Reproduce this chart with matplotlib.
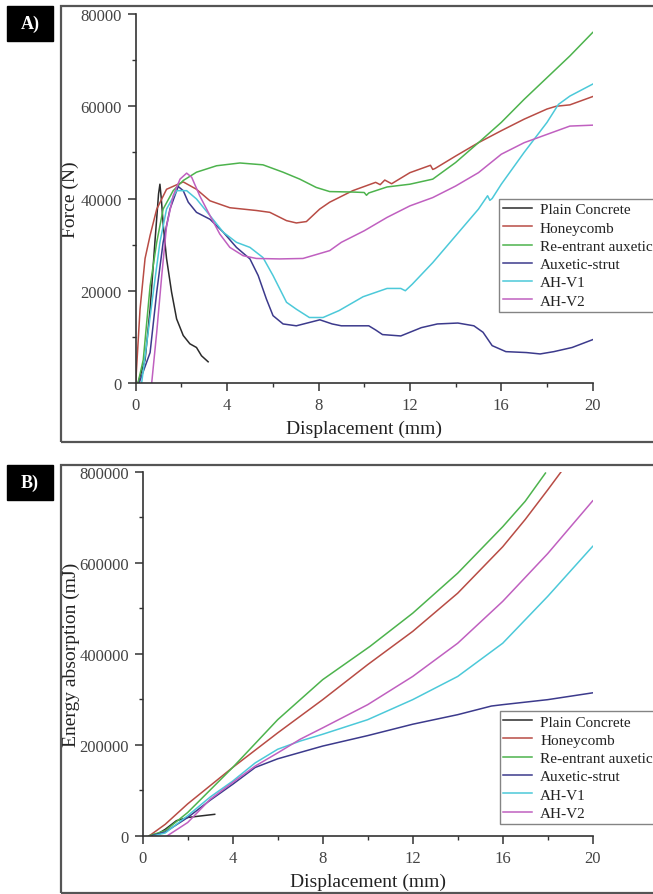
import matplotlib
matplotlib.use("Agg")
import matplotlib.pyplot as plt
from matplotlib.patches import Rectangle
from matplotlib.ticker import MultipleLocator, FuncFormatter

plt.rcParams['font.family'] = ['Liberation Serif', 'DejaVu Serif']

labels = ["Plain Concrete", "Honeycomb", "Re-entrant auxetic", "Auxetic-strut", "AH-V1", "AH-V2"]
colors = ['#2b2b2b', '#b84c45', '#4db34d', '#3c3a8c', '#4cc9d9', '#c060c0']

# ---------- Panel A: Force (N) vs displacement (mm) ----------
pc_x = [0.1, 0.41, 0.63, 0.84, 1.0, 1.06, 1.12, 1.21, 1.35, 1.57, 1.79, 2.08, 2.37, 2.66, 2.88, 3.17]
pc_y = [0, 5000, 16000, 30500, 41000, 43100, 40000, 34000, 27000, 19700, 13900, 10300, 8500, 7700, 5900, 4600]

hc_x = [0, 0.19, 0.41, 0.63, 0.92, 1.35, 2.08, 2.66, 3.25, 4.12, 5.28, 5.87, 6.6, 7.03, 7.47, 8.05, 8.49,
        9.5, 10.5, 10.7, 10.9, 11.2, 12, 12.9, 13.0, 13.1, 14, 15, 16, 17, 18, 18.4, 19, 20]
hc_y = [0, 16000, 27000, 32000, 37700, 42000, 43600, 42000, 39500, 38000, 37400, 37000, 35200, 34700, 35000, 37700, 39200,
        41700, 43500, 43000, 44000, 43200, 45600, 47200, 46300, 46500, 49200, 52100, 54700, 57200, 59400, 60000, 60300, 62100]

re_x = [0.1, 0.33, 0.63, 0.92, 1.2, 1.64, 2.08, 2.66, 3.54, 4.56, 5.57, 6.45, 7.18, 7.9, 8.49, 9.5, 10.0, 10.1, 10.2,
        11, 12, 13, 14, 15, 16, 17, 18, 19, 20]
re_y = [0, 5000, 21000, 30500, 37700, 41700, 43900, 45700, 47100, 47700, 47300, 45700, 44200, 42400, 41500, 41400, 41300, 40700, 41200,
        42500, 43100, 44200, 47800, 52100, 56500, 61500, 66200, 70900, 76000]

as_x = [0.15, 0.63, 0.92, 1.2, 1.5, 1.86, 2.08, 2.3, 2.66, 3.25, 3.83, 4.41, 5.0, 5.36, 5.72, 6.01, 6.45, 7.03, 7.9,
        8.06, 8.6, 9.0, 10.2, 10.5, 10.8, 11.6, 12.5, 13.2, 14.1, 14.8, 15.2, 15.6, 16.2, 17.1, 17.7, 18.3, 19.1, 20]
as_y = [0, 6600, 19700, 30500, 37700, 42600, 41700, 39200, 37000, 35500, 32700, 29400, 26900, 23300, 18200, 14600, 12800, 12400, 13500,
        13700, 12800, 12400, 12400, 11500, 10500, 10200, 12000, 12800, 13000, 12400, 11000, 8100, 6800, 6600, 6300, 6800, 7700, 9400]

v1_x = [0.26, 0.77, 1.06, 1.35, 1.79, 2.23, 2.66, 3.25, 3.83, 4.41, 5.0, 5.57, 6.01, 6.6, 7.03, 7.6, 8.2, 8.9,
        9.95, 11.0, 11.6, 11.8, 12.1, 13, 14, 15, 15.4, 15.5, 15.6, 16, 17, 18, 18.5, 19, 20]
v1_y = [0, 19700, 30500, 37700, 41700, 41700, 39900, 36300, 32700, 30500, 29400, 27200, 23300, 17500, 16000, 14200, 14200, 15700,
        18700, 20500, 20500, 20000, 21400, 26100, 31900, 37700, 40600, 39600, 40000, 43100, 50000, 56500, 60400, 62200, 64800]

v2_x = [0.7, 0.92, 1.14, 1.35, 1.64, 1.94, 2.23, 2.45, 2.8, 3.25, 3.68, 4.12, 4.7, 5.28, 6.3, 7.32, 8.49,
        9, 10, 11, 12, 13, 14, 15, 16, 17, 18, 19, 20]
v2_y = [0, 11000, 23300, 34000, 40600, 44200, 45500, 44600, 40600, 36300, 32300, 29400, 27600, 27000, 26900, 27000, 28700,
        30500, 33000, 35900, 38400, 40200, 42700, 45600, 49600, 52100, 53900, 55700, 55900]

# ---------- Panel B: Energy absorption (mJ) vs displacement (mm) ----------
epc_x = [0.3, 0.7, 1.0, 1.5, 2.0, 2.5, 3.2]
epc_y = [0, 5000, 14000, 33000, 40000, 43000, 47000]

ehc_x = [0.3, 1, 2, 4, 6, 8, 10, 12, 14, 16, 17, 18, 18.6]
ehc_y = [0, 25000, 70000, 150000, 226000, 299000, 376000, 449000, 533000, 635000, 695000, 760000, 800000]

ere_x = [0.3, 1, 2, 4, 6, 8, 10.1, 12, 14, 16, 17, 17.9]
ere_y = [0, 11000, 51000, 150000, 255000, 343000, 416000, 489000, 577000, 679000, 735000, 797000]

eas_x = [0.4, 1, 2, 3, 4, 5, 6, 7, 8, 10, 12, 14, 15.5, 16, 18, 20]
eas_y = [0, 8000, 40000, 78000, 113000, 150000, 169000, 183000, 197000, 220000, 245000, 266000, 285000, 288000, 299000, 314000]

ev1_x = [0.5, 1, 2, 3, 4, 5, 6, 7, 8, 10, 12, 14, 16, 18, 20]
ev1_y = [0, 6000, 44000, 85000, 120000, 160000, 190000, 208000, 223000, 255000, 299000, 350000, 423000, 526000, 636000]

ev2_x = [1.1, 2, 3, 4, 5, 6, 7, 8, 10, 12, 14, 16, 18, 20]
ev2_y = [0, 29000, 80000, 117000, 153000, 182000, 212000, 237000, 288000, 350000, 423000, 515000, 620000, 736000]

force_series = [(pc_x, pc_y), (hc_x, hc_y), (re_x, re_y), (as_x, as_y), (v1_x, v1_y), (v2_x, v2_y)]
energy_series = [(epc_x, epc_y), (ehc_x, ehc_y), (ere_x, ere_y), (eas_x, eas_y), (ev1_x, ev1_y), (ev2_x, ev2_y)]

W, H = 653, 895
fig = plt.figure(figsize=(W / 100, H / 100), dpi=100)


def fx(px):
    return px / W


def fy(py):
    return 1 - py / H


def style_axes(ax, ymax, ystep):
    ax.set_xlim(0, 20)
    ax.set_ylim(0, ymax)
    for s in ['top', 'right']:
        ax.spines[s].set_visible(False)
    for s in ['left', 'bottom']:
        ax.spines[s].set_color('#333333')
        ax.spines[s].set_linewidth(1.2)
    ax.xaxis.set_major_locator(MultipleLocator(4))
    ax.xaxis.set_minor_locator(MultipleLocator(2))
    ax.yaxis.set_major_locator(MultipleLocator(ystep))
    ax.yaxis.set_minor_locator(MultipleLocator(ystep / 2))
    ax.yaxis.set_major_formatter(FuncFormatter(lambda v, p: f"{int(round(v))}"))
    ax.tick_params(which='major', direction='out', length=6, width=1.1, colors='#333333',
                   labelsize=12, labelcolor='#444444', pad=4)
    ax.tick_params(which='minor', direction='out', length=3, width=1.0, colors='#333333')
    ax.set_xlabel("Displacement (mm)", fontsize=14, color='#222222', labelpad=5)


def add_frame(top_px, bottom_px, tag):
    fig.add_artist(Rectangle((fx(60.7), fy(bottom_px)), 1.2, fy(top_px) - fy(bottom_px),
                             transform=fig.transFigure, fill=False, edgecolor='#555555',
                             linewidth=1.6, clip_on=False))
    fig.add_artist(Rectangle((fx(7), fy(top_px + 35)), fx(46), 35 / H,
                             transform=fig.transFigure, facecolor='black', edgecolor='black'))
    fig.text(fx(30), fy(top_px + 17.5), tag, color='white', fontsize=13, fontweight='bold',
             ha='center', va='center')


def add_legend(ax, anchor):
    leg = ax.legend(loc='upper left', bbox_to_anchor=anchor, borderaxespad=0,
                    fontsize=11, frameon=True, fancybox=False, edgecolor='#666666',
                    handlelength=1.9, handletextpad=0.5, labelspacing=0.3, borderpad=0.25)
    leg.get_frame().set_linewidth(1.0)
    for t in leg.get_texts():
        t.set_color('#222222')
    return leg


# Panel A
add_frame(6.7, 442.7, "A)")
axA = fig.add_axes([fx(135.7), fy(384), fx(592.7) - fx(135.7), fy(15) - fy(384)])
axA.patch.set_alpha(0)
for (x, y), c, lab in zip(force_series, colors, labels):
    axA.plot(x, y, color=c, lw=1.1, label=lab)
style_axes(axA, 80000, 20000)
axA.set_ylabel("Force (N)", fontsize=14, color='#222222')
axA.yaxis.set_label_coords(-0.123, 0.5)
add_legend(axA, (0.795, 0.499))

# Panel B
add_frame(465.5, 894.0, "B)")
axB = fig.add_axes([fx(142.7), fy(836.7), fx(592.7) - fx(142.7), fy(472.7) - fy(836.7)])
axB.patch.set_alpha(0)
for (x, y), c, lab in zip(energy_series, colors, labels):
    axB.plot(x, y, color=c, lw=1.1, label=lab)
style_axes(axB, 800000, 200000)
axB.set_ylabel("Energy absorption (mJ)", fontsize=14, color='#222222')
axB.yaxis.set_label_coords(-0.14, 0.5)
add_legend(axB, (0.793, 0.3426))

fig.savefig("out.png", dpi=100)
